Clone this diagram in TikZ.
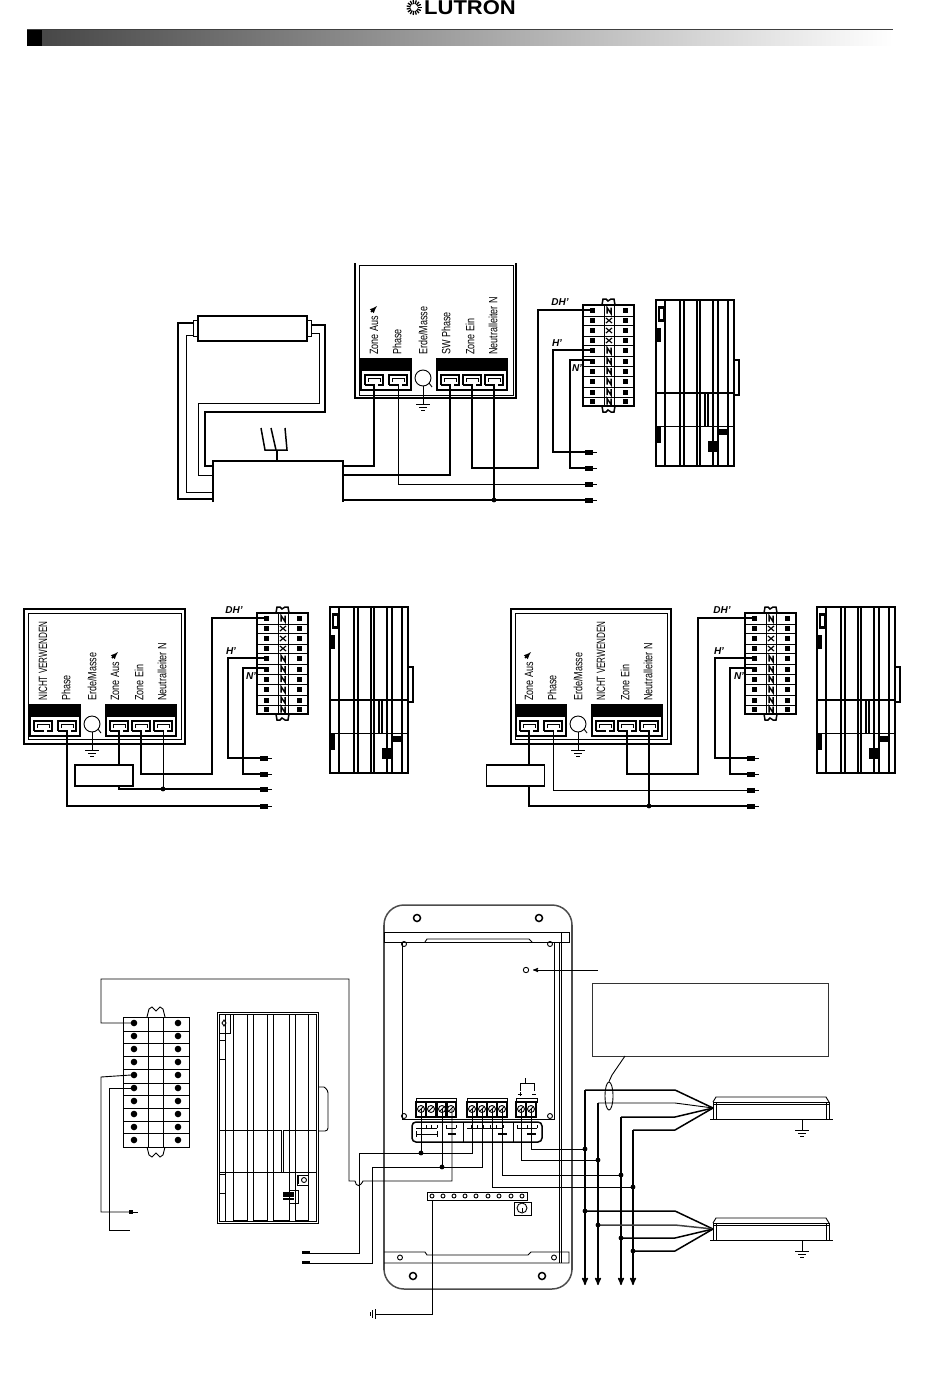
\documentclass[tikz,border=0pt]{standalone}
\usepackage{fontspec}
\setmainfont{Liberation Sans}
\usepackage{graphicx}
\usetikzlibrary{arrows,shapes.geometric}

\tikzset{
  wire/.style={line width=1.5pt},
  thinwire/.style={line width=0.9pt},
  frameline/.style={line width=1.6pt},
  sidelabel/.style={rotate=90,anchor=west,inner sep=0pt,font=\fontsize{12}{12}\selectfont},
  wirelabel/.style={inner sep=0pt,font=\fontsize{10}{10}\selectfont\bfseries\itshape},
  loadbox/.style={draw,line width=1.5pt,minimum width=58pt,minimum height=21pt,inner sep=0pt},
}

\newcommand{\junct}[1]{\fill (#1) circle (2.4);}
\newcommand{\earth}[1]{\draw[thinwire] (#1) +(-7,0) -- +(7,0) +(-4,3) -- +(4,3) +(-2,6) -- +(2,6);}
\newcommand{\wirestub}[1]{\fill (#1) +(0,-2.5) rectangle +(8,2.5); \draw[thinwire] (#1) -- +(12,0);}
\newcommand{\zonearrow}[1]{\draw[line width=1.5pt,-latex] (#1) -- +(6,-6);}

% control unit: terminals t1..t5, circle stud, six printed labels
\newcommand{\ctrlbox}[8]{%
\begin{scope}[shift={(#2)},name prefix=#1-]
    \coordinate (t1) at (19,122);
    \coordinate (t2) at (43,122);
    \coordinate (t3) at (95,122);
    \coordinate (t4) at (117,122);
    \coordinate (t5) at (139,122);
    \fill (6,96) rectangle (56,108);
    \fill (82,96) rectangle (152,108);
    \draw[wire] (6,96) rectangle (56,127);
    \draw[wire] (82,96) rectangle (152,127);
    \foreach \tx in {19,43,95,117,139} {
        \draw[wire] (\tx-9,122) -- (\tx-9,112) -- (\tx+9,112) -- (\tx+9,122) -- (\tx+4,122);
        \draw[thinwire] (\tx-6,119) -- (\tx-6,115) -- (\tx+6,115) -- (\tx+6,119);
        \draw[wire] (\tx-9,122) -- (\tx+1,122);
    }
    \draw[thinwire] (68,115) circle (8);
    \draw[thinwire] (74,120) -- (77,124);
    \draw[thinwire] (68,123) -- (68,141);
    \earth{68,141}
    \node[sidelabel] (l1) at (19,92) {\scalebox{.75}[1]{#3}};
    \node[sidelabel] (l2) at (42,92) {\scalebox{.75}[1]{#4}};
    \node[sidelabel] (l3) at (68,92) {\scalebox{.75}[1]{#5}};
    \node[sidelabel] (l4) at (91,92) {\scalebox{.75}[1]{#6}};
    \node[sidelabel] (l5) at (115,92) {\scalebox{.75}[1]{#7}};
    \node[sidelabel] (l6) at (138,92) {\scalebox{.75}[1]{#8}};
\end{scope}}

% small breaker strip, ten rows, with dh / hot / neu feed points
\newcommand{\breakerstrip}[2]{%
\begin{scope}[shift={(#2)},name prefix=#1-]
    \coordinate (dh) at (7,5);
    \coordinate (hot) at (7,45);
    \coordinate (neu) at (7,55);
    \draw[wire] (0,0) rectangle (51,101);
    \foreach \ry in {11,20,31,40,51,61,71,82,92}
        \draw[thinwire] (0,\ry) -- (51,\ry);
    \draw[thinwire] (21,0) -- (21,101);
    \draw[thinwire] (31,0) -- (31,101);
    \foreach \ry in {5.5,15.5,25.5,35.5,45.5,56,66,76.5,87,96.5} {
        \fill (6.5,\ry-2.5) rectangle (11.5,\ry+2.5);
        \fill (39.5,\ry-2.5) rectangle (44.5,\ry+2.5);
    }
    \foreach \ry in {15.5,25.5,35.5}
        \draw[line width=1.2pt] (23,\ry-2.5) -- (29,\ry+2.5) (29,\ry-2.5) -- (23,\ry+2.5);
    \foreach \ry in {5.5,45.5,56,66,76.5,87,96.5}
        \draw[line width=1.5pt] (24,\ry+3) -- (24,\ry-3) -- (28,\ry+3) -- (28,\ry-3);
    \draw[wire] (19,0) -- (20,-6) -- (23,-6) -- (25,-4) -- (28,-6) -- (31,-6) -- (32,0);
    \draw[wire] (19,101) -- (20,107) -- (23,107) -- (25,105) -- (28,107) -- (31,107) -- (32,101);
    \node[wirelabel] (ldh) at (-23,-3) {DH'};
    \node[wirelabel] (lh) at (-26,38) {H'};
    \node[wirelabel] (ln) at (-6,63) {N'};
\end{scope}}

% small distribution panel
\newcommand{\dinpanel}[1]{%
\begin{scope}[shift={(#1)}]
    \draw[line width=2pt] (0,0) rectangle (78,166);
    \foreach \vx in {9,24,28,41,44,57,62,72}
        \draw[line width=1.6pt] (\vx,0) -- (\vx,166);
    \draw[line width=1.5pt] (0,93) -- (78,93);
    \draw[thinwire] (0,126) -- (78,126);
    \fill (2,6) rectangle (9,22);
    \fill[white] (4,9) rectangle (7,19);
    \fill (0,28) rectangle (5,42);
    \fill (0,127) rectangle (5,143);
    \draw[line width=1.3pt] (49,93) -- (49,126) (52,93) -- (52,126);
    \fill (61,129) rectangle (71,135);
    \fill (52,141) rectangle (63,152);
    \draw[wire] (78,60) -- (83,60) -- (83,95) -- (79,95);
\end{scope}}

% luminaire with ground, fan wires end at (name-in)
\newcommand{\luminaire}[2]{%
\begin{scope}[shift={(#2)},name prefix=#1-]
    \coordinate (in) at (0,11);
    \draw[thinwire] (-3,22) -- (120,22);
    \draw[thinwire] (0,22) -- (0,5) -- (116,5) -- (116,22);
    \draw[thinwire] (3,22) -- (3,6) (113,22) -- (113,6);
    \draw[thinwire] (0,5) -- (3,0) -- (113,0) -- (116,5);
    \draw[thinwire] (0,7) -- (116,7);
    \draw[thinwire] (89,22) -- (89,33);
    \earth{89,33}
\end{scope}}

\begin{document}
\begin{tikzpicture}[x=1pt,y=-1pt,>=stealth']
\useasboundingbox (0,0) rectangle (950,1388);

% header
\foreach \a in {0,24,...,336}
    \draw[line width=1.3pt] (414,7.5) +(\a:3.5) -- +(\a:7.5);
\node[anchor=west,inner sep=0pt,font=\fontsize{20}{20}\selectfont\bfseries] (logo) at (424,8) {\scalebox{1.1}[1]{LUTRON}};
\shade[left color=black!72,right color=white] (42,30) rectangle (893,46);
\fill (27,29) rectangle (42,46);
\draw[black!75] (27,29) -- (893,29);

% ---- first unit ----
\draw[frameline] (355,263) -- (355,398) -- (516,398) -- (516,263);
\draw[thinwire] (359,265) rectangle (513,395);
\ctrlbox{a}{355,263}{Zone Aus}{Phase}{Erde/Masse}{SW Phase}{Zone Ein}{Neutralleiter N}
\zonearrow{371,312}
\breakerstrip{sa}{583,305}
\dinpanel{656,300}

% lamp
\node[draw,line width=1.6pt,minimum width=109pt,minimum height=25pt,inner sep=0pt] (tube) at (252.5,328.5) {};
\draw[thinwire] (tube.west) +(-4,-8) rectangle +(0,8);
\draw[thinwire] (tube.east) +(0,-8) rectangle +(4,8);
\coordinate (capa) at (194,323);
\coordinate (capb) at (194,335);
\coordinate (capc) at (312,325);
\coordinate (capd) at (312,333);
% ballast
\coordinate (balla) at (213,499);
\coordinate (ballb) at (213,492);
\coordinate (ballc) at (213,466);
\coordinate (balld) at (213,475);
\draw[wire] (213,502) -- (213,461) -- (343,461) -- (343,502);
\draw[wire] (capa) -- (178,323) -- (178,499) -- (balla);
\draw[thinwire] (capb) -- (186,335) -- (186,492) -- (ballb);
\draw[wire] (capc) -- (325,325) -- (325,412) -- (205,412) -- (205,466) -- (ballc);
\draw[thinwire] (capd) -- (319,333) -- (319,403) -- (198,403) -- (198,475) -- (balld);
\draw[wire] (277,461) -- (277,450);
\draw[wire] (261,428) -- (265,450) -- (287,450) -- (285,428);
\draw[wire] (271,428) -- (276,450);

% wires to unit
\coordinate (ea) at (585,452);
\coordinate (eb) at (585,468);
\coordinate (ec) at (585,484);
\coordinate (ed) at (585,500);
\draw[wire] (343,466) -- (a-t1 |- 0,466) -- (a-t1);
\draw[wire] (343,475) -- (a-t3 |- 0,475) -- (a-t3);
\draw[thinwire] (a-t2) -- (a-t2 |- ec) -- (ec);
\draw[wire] (343,500) -- (ed);
\draw[wire] (a-t4) -- (a-t4 |- 0,468) -- (538,468) -- (538,310) -- (sa-dh);
\draw[wire] (a-t5) -- (a-t5 |- ed);
\junct{a-t5 |- ed}
\draw[wire] (sa-hot) -- (553,350) -- (553,452) -- (ea);
\draw[wire] (sa-neu) -- (570,360) -- (570,468) -- (eb);
\wirestub{ea}
\wirestub{eb}
\wirestub{ec}
\wirestub{ed}

% ---- second unit ----
\draw[frameline] (24,609) rectangle (185,744);
\draw[thinwire] (28,613) rectangle (181,739);
\ctrlbox{b}{24,609}{\scalebox{.9}[1]{NICHT VERWENDEN}}{Phase}{Erde/Masse}{Zone Aus}{Zone Ein}{Neutralleiter N}
\zonearrow{112,658}
\breakerstrip{sb}{257,613}
\dinpanel{330,607}
\node[loadbox] (lb) at (104,775.5) {};
\coordinate (fa) at (260,758);
\coordinate (fb) at (260,774);
\coordinate (fc) at (260,789);
\coordinate (fd) at (260,806);
\draw[wire] (b-t2) -- (b-t2 |- fd) -- (fd);
\draw[wire] (b-t3) -- (b-t3 |- lb.north);
\draw[wire] (b-t3 |- lb.south) -- (b-t3 |- fc) -- (fc);
\draw[wire] (b-t4) -- (b-t4 |- fb) -- (212,774) -- (212,618) -- (sb-dh);
\draw[thinwire] (b-t5) -- (b-t5 |- fc);
\junct{b-t5 |- fc}
\draw[wire] (sb-hot) -- (228,658) -- (228,758) -- (fa);
\draw[wire] (sb-neu) -- (243,668) -- (243,774) -- (fb);
\wirestub{fa}
\wirestub{fb}
\wirestub{fc}
\wirestub{fd}

% ---- third unit ----
\draw[frameline] (511,609) rectangle (671,744);
\draw[thinwire] (515,613) rectangle (667,739);
\ctrlbox{c}{510,609}{Zone Aus}{Phase}{Erde/Masse}{\scalebox{.9}[1]{NICHT VERWENDEN}}{Zone Ein}{Neutralleiter N}
\zonearrow{525,658}
\breakerstrip{sc}{745,613}
\dinpanel{817,607}
\node[loadbox] (lc) at (515.5,775.5) {};
\coordinate (ga) at (747,758);
\coordinate (gb) at (747,774);
\coordinate (gc) at (747,790);
\coordinate (gd) at (747,806);
\draw[wire] (c-t1) -- (c-t1 |- lc.north);
\draw[wire] (c-t1 |- lc.south) -- (c-t1 |- gd) -- (gd);
\draw[thinwire] (c-t2) -- (c-t2 |- gc) -- (gc);
\draw[wire] (c-t4) -- (c-t4 |- gb) -- (698,774) -- (698,618) -- (sc-dh);
\draw[wire] (c-t5) -- (c-t5 |- gd);
\junct{c-t5 |- gd}
\draw[wire] (sc-hot) -- (715,658) -- (715,758) -- (ga);
\draw[wire] (sc-neu) -- (730,668) -- (730,774) -- (gb);
\wirestub{ga}
\wirestub{gb}
\wirestub{gc}
\wirestub{gd}

% ---- large breaker strip ----
\draw[thinwire] (123,1017) rectangle (189,1147);
\foreach \ry in {1031,1043,1056,1069,1083,1095,1108,1121,1133}
    \draw[thinwire] (123,\ry) -- (189,\ry);
\draw[thinwire] (148,1017) -- (148,1147);
\draw[thinwire] (163,1017) -- (163,1147);
\foreach \ry in {1023,1036,1049,1062,1075,1088,1101,1114,1127,1140} {
    \fill (134,\ry) circle (3.3);
    \fill (178,\ry) circle (3.3);
}
\draw[thinwire] (147,1017) -- (149,1009) -- (152,1007) -- (156,1011) -- (160,1007) -- (163,1009) -- (165,1017);
\draw[thinwire] (147,1147) -- (149,1155) -- (152,1157) -- (156,1153) -- (160,1157) -- (163,1155) -- (165,1147);
\coordinate (ma) at (131,1023);
\coordinate (mb) at (131,1075);
\coordinate (mc) at (131,1088);

% ---- large panel ----
\draw[thinwire] (217,1012) rectangle (318,1223);
\draw[thinwire] (219,1014) rectangle (316,1221);
\foreach \vx in {225,233,247,253,267,273,289,295,308}
    \draw[thinwire] (\vx,1014) -- (\vx,1221);
\foreach \vx/\wx in {233/247,253/267,273/289,295/308}
    \draw[line width=1.5pt] (\vx,1221) -- (\wx,1221);
\draw[thinwire] (219,1130) -- (281,1130) (283,1130) -- (316,1130);
\draw[thinwire] (219,1172) -- (316,1172);
\draw[thinwire] (281,1130) -- (281,1172) (283,1130) -- (283,1172);
\draw[thinwire] (219,1014) rectangle (230,1033);
\draw[thinwire] (224,1020) -- (226,1023) -- (224,1026) -- (222,1023) -- cycle;
\draw[thinwire] (219,1040) rectangle (225,1059);
\draw[thinwire] (219,1174) rectangle (225,1193);
\draw[thinwire] (319,1087) -- (324,1087) [rounded corners=3pt] -- (328,1090) -- (328,1131) -- (319,1131);
\fill[white] (297,1175) rectangle (308,1185);
\draw[thinwire] (297,1175) rectangle (308,1185);
\draw[thinwire] (304,1180) circle (2.5);
\fill (297,1176) rectangle (299,1184);
\draw[thinwire] (289,1190) rectangle (298,1203);
\fill (283,1192) rectangle (294,1197);
\fill (283,1198) rectangle (294,1200);

% ---- enclosure ----
\draw[line width=1.5pt,black!70,rounded corners=20pt] (384,932) -- (384,905) -- (572,905) -- (572,932);
\draw[line width=1.5pt,black!70,rounded corners=20pt] (384,1263) -- (384,1289) -- (572,1289) -- (572,1263);
\draw[line width=1.5pt,black!70] (384,925) -- (384,1270);
\draw[line width=1.3pt,black!70] (572,925) -- (572,1270);
\draw[thinwire] (384,932) -- (569,932) -- (569,942) -- (384,942) -- cycle;
\draw[thinwire] (561,932) -- (561,942);
\draw[thinwire] (425,942) -- (427,939) -- (529,939) -- (532,942);
\draw[thinwire] (559,942) -- (559,1263);
\draw[thinwire] (561.5,942) -- (561.5,1263);
\draw[thinwire] (384,1252) -- (425,1252) -- (427,1255) -- (528,1255) -- (531,1252) -- (569,1252) -- (569,1263) -- (384,1263);
\foreach \hx in {417,539} \draw[wire] (\hx,918) circle (3.5);
\foreach \hx in {413,542} \draw[wire] (\hx,1276) circle (3.5);
\foreach \hx in {400,554} \draw[thinwire] (\hx,1257.5) circle (2.5);
% board
\draw[thinwire] (402,942) -- (402,1119) -- (554,1119) -- (554,942);
\foreach \hx/\hy in {404/944,550/944,404/1116,550/1116}
    \draw[thinwire] (\hx,\hy) circle (2.5);
\draw[thinwire] (526,970) circle (2.7);
\coordinate (ledtip) at (533,970);
\coordinate (ledtail) at (598,970);
\draw[thinwire,->] (ledtail) -- (ledtip);
% note box
\node[draw,black!80,line width=0.9pt,minimum width=236pt,minimum height=73pt,inner sep=0pt] (note) at (710,1019.5) {};
\node[draw,line width=0.9pt,ellipse,inner sep=0pt,minimum width=8pt,minimum height=28pt] (bundle) at (609,1096) {};
\draw[thinwire] (625,1056) -- (612,1075) -- (bundle.north);

% terminal blocks
\draw[thinwire] (416,1098) rectangle (456,1102);
\draw[thinwire] (467,1098) rectangle (507,1102);
\draw[thinwire] (516,1098) rectangle (537,1102);
\foreach \tx in {421,431,442,451,472,482,492,502,521,531} {
    \draw[wire] (\tx-5,1102) rectangle (\tx+5,1117);
    \draw[thinwire] (\tx,1109) circle (3.5);
    \draw[thinwire] (\tx-2,1111) -- (\tx+2,1107);
}
% bracket above last block
\draw[thinwire] (525,1078) -- (525,1083);
\draw[thinwire] (520,1091) -- (520,1083) -- (534,1083) -- (534,1091);
\draw[thinwire] (518,1094) -- (522,1094) (520,1092) -- (520,1096);
\draw[thinwire] (532,1094) -- (536,1094);
% legend strip under blocks
\draw[wire,rounded corners=4pt] (412,1122) rectangle (542,1142);
\draw[thinwire] (463,1122) -- (463,1142) (513,1122) -- (513,1142);
\draw[thinwire] (416,1128) -- (437,1128) (446,1128) -- (456,1128) (467,1128) -- (503,1128) (517,1128) -- (537,1128);
\foreach \tx in {421,426,431,437,446,456,471,477,483,490,496,503,517,527,537}
    \draw[line width=0.5pt] (\tx,1125) -- (\tx,1128);
\draw[thinwire] (416,1134) -- (437,1134);
\draw[thinwire] (416,1131) -- (416,1137) (437,1131) -- (437,1137);
\draw[line width=1.6pt] (448,1134) -- (456,1134);
\draw[line width=1.6pt] (498,1134) -- (507,1134);
\draw[line width=1.6pt] (527,1134) -- (536,1134);

% buses, top ends go to the luminaires
\luminaire{ua}{713,1097}
\luminaire{ub}{713,1218}
\coordinate (ba) at (585,1090);
\coordinate (bb) at (598,1103);
\coordinate (bc) at (621,1117);
\coordinate (bd) at (633,1130);
\coordinate (ca) at (585,1285);
\coordinate (cb) at (598,1285);
\coordinate (cc) at (621,1285);
\coordinate (cd) at (633,1285);
\draw[wire,->] (ba) -- (ca);
\draw[wire,->] (bb) -- (cb);
\draw[wire,->] (bc) -- (cc);
\draw[wire,->] (bd) -- (cd);
\draw[wire] (ba) -- (675,1090) -- (ua-in);
\draw[thinwire] (bb) -- (675,1103) -- (ua-in);
\draw[wire] (bc) -- (675,1117) -- (ua-in);
\draw[wire] (bd) -- (675,1130) -- (ua-in);
\draw[wire] (585,1211) -- (675,1211) -- (ub-in);
\draw[line width=1.5pt,black!75] (598,1225) -- (675,1225) -- (ub-in);
\draw[wire] (621,1238) -- (675,1238) -- (ub-in);
\draw[wire] (633,1251) -- (675,1251) -- (ub-in);
\foreach \jx/\jy in {585/1211,598/1225,621/1238,633/1251,585/1149,598/1160,621/1175,633/1187} {
    \junct{\jx,\jy}
}

% field wires
\coordinate (ga1) at (421,1109);
\coordinate (ga3) at (442,1109);
\coordinate (ga4) at (452,1109);
\coordinate (gb1) at (472,1109);
\coordinate (gb2) at (482,1109);
\coordinate (gb3) at (492,1109);
\coordinate (gb4) at (502,1109);
\coordinate (gc1) at (521,1109);
\coordinate (gc2) at (531,1109);
\draw[thinwire] (ma) -- (101,1023) -- (101,979) -- (349,979) -- (349,1181) -- (355,1181) .. controls (356,1187) and (360,1187) .. (363,1181) -- (452,1181) -- (ga4);
\draw[thinwire] (302,1253) -- (359,1253) -- (359,1153) -- (472,1153) -- (gb1);
\draw[thinwire] (302,1263) -- (372,1263) -- (372,1167) -- (482,1167) -- (gb2);
\draw[thinwire] (ga1) -- (421,1153);
\draw[thinwire] (ga3) -- (442,1167);
\junct{421,1153}
\junct{442,1167}
\draw[line width=1.5pt] (302,1252) -- (310,1252);
\draw[line width=1.5pt] (302,1262) -- (310,1262);
\draw[thinwire] (gb3) -- (492,1187) -- (633,1187);
\draw[thinwire] (gb4) -- (502,1175) -- (621,1175);
\draw[thinwire] (gc1) -- (521,1160) -- (598,1160);
\draw[thinwire] (gc2) -- (531,1149) -- (585,1149);

\draw[thinwire] (mb) -- (101,1077) -- (101,1212) -- (129,1212);
\fill (129,1210) rectangle (133,1214);
\draw[thinwire] (133,1212) -- (138,1212);
\draw[thinwire] (mc) -- (109,1088) -- (109,1230) -- (130,1230);

% ground bar
\draw[thinwire] (427,1192) rectangle (527,1200);
\foreach \hx in {432,443,454,465,476,488,499,511,522}
    \draw[thinwire] (\hx,1196) circle (2);
\draw[thinwire] (514,1202) rectangle (531,1215);
\draw[thinwire] (522,1208) circle (5);
\draw[thinwire] (522,1208) -- (522,1212);
\draw[thinwire] (432,1200) -- (432,1314) -- (375,1314);
\draw[thinwire] (375,1309) -- (375,1319) (372,1310) -- (372,1318) (370,1312) -- (370,1316);
\end{tikzpicture}
\end{document}
